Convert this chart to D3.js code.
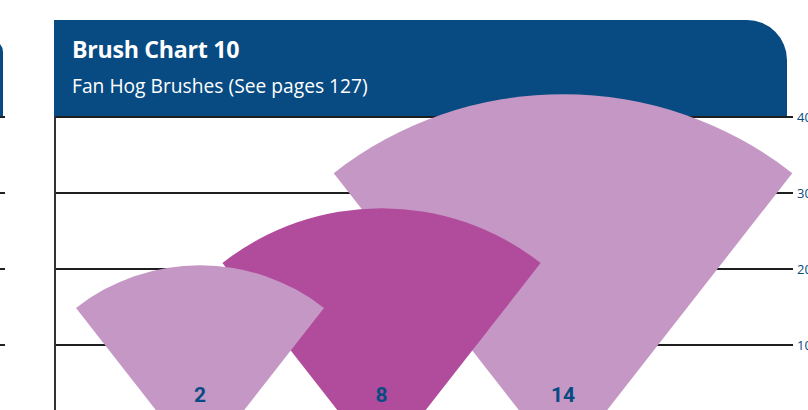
<!DOCTYPE html>
<html><head><meta charset="utf-8">
<script src="https://cdn.jsdelivr.net/npm/d3@7"></script>
<style>html,body{margin:0;padding:0;background:#fff;overflow:hidden}svg{display:block}</style>
</head><body>
<svg id="c" width="808" height="410"></svg>
<script>
const categories = ["2", "8", "14"];
const values = [20.5, 28, 43];
const tickValues = [10, 20, 30, 40];
const title = "Brush Chart 10";
const subtitle = "Fan Hog Brushes (See pages 127)";

const W = 808, H = 410;
const svg = d3.select("#c");
const blue = "#074b82";
const light = "#c597c5", dark = "#b14b9b";

const y = d3.scaleLinear().domain([0, 40]).range([421, 117]);
const x = d3.scalePoint().domain(categories).range([200, 563]);
const left = 55, right = 793;

// previous (cut) panel at far left
svg.append("path").attr("fill", blue)
  .attr("d", `M0,${y(40)} V40 H-9 A12,12 0 0 1 3,52 V${y(40)} Z`);
svg.append("g").selectAll("line").data(tickValues).join("line")
  .attr("x1", 0).attr("x2", 5).attr("y1", d => y(d)).attr("y2", d => y(d))
  .attr("stroke", "#222").attr("stroke-width", 2);

// header
const hx0 = 54, hx1 = 787, hy0 = 20, hy1 = y(40), r = 40;
svg.append("path").attr("fill", blue)
  .attr("d", `M${hx0},${hy0} H${hx1 - r} A${r},${r} 0 0 1 ${hx1},${hy0 + r} V${hy1} H${hx0} Z`);

function fitText(sel, target, base) {
  const w = sel.node().getComputedTextLength();
  if (w > 0) sel.attr("font-size", Math.min(base * 1.2, base * target / w));
}
const t1 = svg.append("text").attr("x", 72).attr("y", 58).text(title)
  .attr("fill", "#fff").attr("font-family", "'Open Sans', sans-serif").attr("font-weight", 700)
  .attr("font-size", 22).attr("letter-spacing", -0.3);
fitText(t1, 167, 22);
const t2 = svg.append("text").attr("x", 72).attr("y", 93).text(subtitle)
  .attr("fill", "#fff").attr("font-family", "'Open Sans', sans-serif").attr("font-size", 18);
fitText(t2, 296, 18);

// gridlines + right axis
const axis = d3.axisRight(y).tickValues(tickValues).tickSize(0).tickPadding(4).tickFormat(d3.format("d"));
const gAxis = svg.append("g").attr("transform", `translate(${right},0)`).call(axis);
gAxis.select(".domain").remove();
gAxis.selectAll("text").attr("fill", blue).attr("font-family", "'Open Sans', sans-serif").attr("font-size", 13);
svg.append("g").selectAll("line").data(tickValues).join("line")
  .attr("x1", left).attr("x2", right).attr("y1", d => y(d)).attr("y2", d => y(d))
  .attr("stroke", "#1e1e1e").attr("stroke-width", 2);
svg.append("line").attr("x1", left).attr("x2", left).attr("y1", y(40)).attr("y2", H)
  .attr("stroke", "#333").attr("stroke-width", 2);

// fans
const apexY = y(-6);
const half = 38 * Math.PI / 180;
const arc = d3.arc().innerRadius(0).outerRadius(d => apexY - y(d.v)).startAngle(-half).endAngle(half);
const data = categories.map((c, i) => ({ c, v: values[i], i }));
svg.append("g").selectAll("path").data(data.slice().reverse()).join("path")
  .attr("transform", d => `translate(${x(d.c)},${apexY})`)
  .attr("d", arc)
  .attr("fill", d => d.i % 2 ? dark : light);

// category labels
svg.append("g").selectAll("text").data(data).join("text")
  .attr("x", d => x(d.c)).attr("y", 402).attr("text-anchor", "middle")
  .attr("fill", blue).attr("font-family", "Roboto, sans-serif").attr("font-weight", 700).attr("font-size", 21)
  .text(d => d.c);
</script>
</body></html>
